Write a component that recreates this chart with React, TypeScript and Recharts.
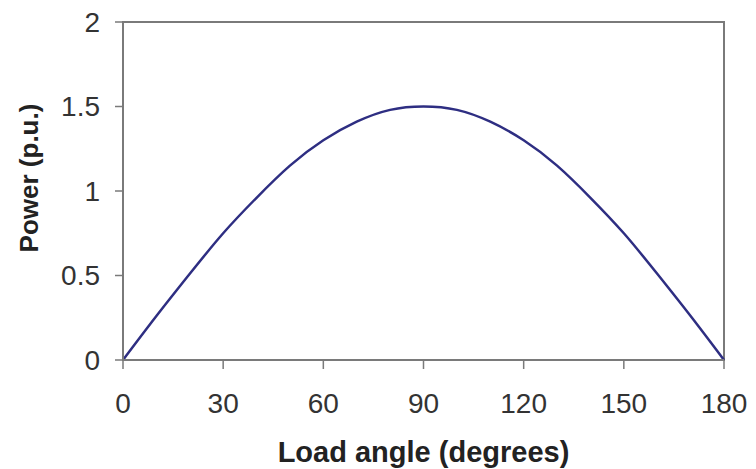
import React from 'react';
import { LineChart, Line, XAxis, YAxis, ReferenceArea } from 'recharts';

const angles = [0, 10, 20, 30, 40, 50, 60, 70, 80, 90, 100, 110, 120, 130, 140, 150, 160, 170, 180];
const power = [0, 0.26, 0.51, 0.75, 0.96, 1.15, 1.3, 1.41, 1.48, 1.5, 1.48, 1.41, 1.3, 1.15, 0.96, 0.75, 0.51, 0.26, 0];
const xTicks = [0, 30, 60, 90, 120, 150, 180];
const yTicks = [0, 0.5, 1, 1.5, 2];

const data = angles.map((a, i) => ({ angle: a, power: power[i] }));

const FONT = '"Liberation Sans", Arial, sans-serif';
const AXIS = '#7a7a7a';

export default function App() {
  return (
    <div style={{ position: 'absolute', left: 0, top: 0, width: 756, height: 469, background: '#fff' }}>
      <LineChart width={756} height={469} data={data} margin={{ top: 22, right: 32, bottom: 0, left: 0 }}>
        <ReferenceArea x1={0} x2={180} y1={0} y2={2} fill="none" stroke={AXIS} strokeWidth={2} ifOverflow="visible" />
        <XAxis
          dataKey="angle"
          type="number"
          domain={[0, 180]}
          ticks={xTicks}
          height={109}
          tickSize={9}
          tickMargin={24}
          axisLine={{ stroke: AXIS, strokeWidth: 2 }}
          tickLine={{ stroke: AXIS, strokeWidth: 1.5 }}
          tick={{ fill: '#333', fontSize: 28, fontFamily: FONT }}
          label={{
            content: () => (
              <text x={423.5} y={462} textAnchor="middle" fill="#222" fontSize={29} fontWeight="bold" fontFamily={FONT}>
                Load angle (degrees)
              </text>
            ),
          }}
        />
        <YAxis
          type="number"
          domain={[0, 2]}
          ticks={yTicks}
          width={123}
          tickSize={8}
          tickMargin={15}
          axisLine={{ stroke: AXIS, strokeWidth: 2 }}
          tickLine={{ stroke: AXIS, strokeWidth: 1.5 }}
          tick={{ fill: '#333', fontSize: 28, fontFamily: FONT }}
          label={{
            content: () => (
              <text
                x={38}
                y={178}
                transform="rotate(-90, 38, 178)"
                textAnchor="middle"
                fill="#222"
                fontSize={26}
                fontWeight="bold"
                fontFamily={FONT}
              >
                Power (p.u.)
              </text>
            ),
          }}
        />
        <Line
          dataKey="power"
          type="natural"
          stroke="#2e2e82"
          strokeWidth={2.5}
          dot={false}
          isAnimationActive={false}
        />
      </LineChart>
    </div>
  );
}
